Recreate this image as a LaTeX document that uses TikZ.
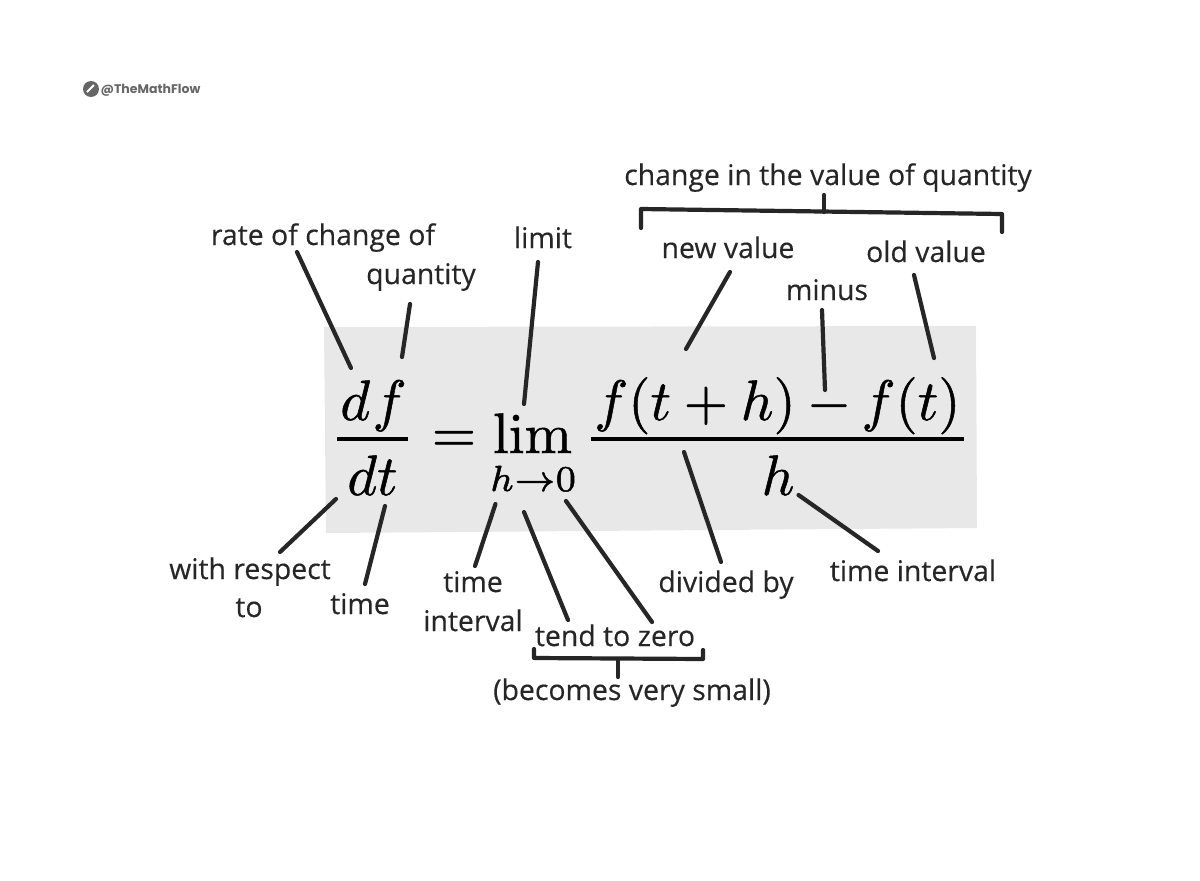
\documentclass[tikz,border=0pt]{standalone}
\usepackage[no-math]{fontspec}
\setmainfont{Open Sans}
\newfontfamily\lblfont[FakeBold=0.3]{Open Sans}
\newfontfamily\logofont{Poppins}
\definecolor{ink}{HTML}{262626}
\definecolor{panel}{HTML}{E8E8E8}
\definecolor{logogray}{HTML}{666666}
\newcommand{\thick}{\special{pdf:code 2 Tr 0.09 w}}
\tikzset{
  lbl/.style={text=ink,inner sep=0pt,anchor=base,font=\lblfont\fontsize{28.4}{32}\selectfont},
  conn/.style={draw=ink,line width=4.2pt,line cap=round,line join=round},
  eqn/.style={scale=5.7,inner sep=0pt,anchor=base,text=black},
  rulebar/.style={draw=black,line width=3.4pt},
}
\begin{document}
\begin{tikzpicture}[x=1pt,y=-1pt]
\useasboundingbox (0,0) rectangle (1200,881);
\fill[white] (0,0) rectangle (1200,881);
\fill[panel] (324,327) -- (976,326) -- (977,528) -- (326,533) -- cycle;
% logo
\node[circle,fill=logogray,minimum size=16pt,inner sep=0pt] (logoicon) at (91,89) {};
\draw[white,line width=2pt] (87,92) -- (94,85);
\node[inner sep=0pt,anchor=base,text=logogray,font=\logofont\bfseries\fontsize{12.5}{15}\selectfont] (logotext) at (150.5,93) {@TheMathFlow};
% equation
\node[eqn] (df) at (373.5,420) {\thick$d\mkern0.8mu f$};
\node[eqn] (dt) at (372.5,495) {\thick$dt$};
\node[eqn] (eq) at (454,452) {\thick$=$};
\node[eqn] (lim) at (532.5,453) {\thick$\mathrm{lim}$};
\node[eqn,scale=0.91] (hto) at (533,491) {\thick$\scriptstyle h\to 0$};
\node[eqn] (num1) at (695,420) {\thick$f(t+h)$};
\node[eqn] (minus) at (829,420) {\thick$-$};
\node[eqn] (num2) at (911,420) {\thick$f(t)$};
\node[eqn] (den) at (778,495) {\thick$h$};
\coordinate (r1a) at (337,439); \coordinate (r1b) at (408,439);
\coordinate (r2a) at (591,439); \coordinate (r2b) at (964,439);
\draw[rulebar] (r1a) -- (r1b);
\draw[rulebar] (r2a) -- (r2b);
% labels
\node[lbl] (change) at (828,185) {change in the value of quantity};
\node[lbl] (rate) at (323,245) {rate of change of};
\node[lbl] (quant) at (421,284) {quantity};
\node[lbl] (limit) at (543,248) {limit};
\node[lbl] (newv) at (728,258) {new value};
\node[lbl] (oldv) at (926,262) {old value};
\node[lbl] (minusl) at (827,300) {minus};
\node[lbl] (resp) at (250,579) {with respect};
\node[lbl] (to) at (249,617) {to};
\node[lbl] (timea) at (360,614) {time};
\node[lbl] (timeb) at (473,592) {time};
\node[lbl] (intv) at (473,631) {interval};
\node[lbl] (tend) at (615,646) {tend to zero};
\node[lbl] (small) at (632,700) {(becomes very small)};
\node[lbl] (divby) at (726,592) {divided by};
\node[lbl] (tint) at (913,581) {time interval};
% connector ends
\coordinate (c1a) at (297,252); \coordinate (c1b) at (351,368);
\coordinate (c2a) at (410,304); \coordinate (c2b) at (402,357);
\coordinate (c3a) at (538,262); \coordinate (c3b) at (524,404);
\coordinate (c4a) at (730,272); \coordinate (c4b) at (686,349);
\coordinate (c5a) at (822,310); \coordinate (c5b) at (825,390);
\coordinate (c6a) at (914,275); \coordinate (c6b) at (934,358);
\coordinate (c7a) at (280,552); \coordinate (c7b) at (336,499);
\coordinate (c8a) at (365,584); \coordinate (c8b) at (385,506);
\coordinate (c9a) at (475,566); \coordinate (c9b) at (495.5,504);
\coordinate (c10a) at (568,620); \coordinate (c10b) at (524,512);
\coordinate (c11a) at (652,622); \coordinate (c11b) at (566,501);
\coordinate (c12a) at (721,562); \coordinate (c12b) at (684,452);
\coordinate (c13a) at (878,551); \coordinate (c13b) at (798.5,495);
\foreach \i in {1,...,13} \draw[conn] (c\i a) -- (c\i b);
% brackets
\coordinate (ba) at (641,228); \coordinate (bb) at (641,209);
\coordinate (bc) at (1002,214); \coordinate (bd) at (1002,232);
\coordinate (be) at (824,195); \coordinate (bf) at (824,212);
\draw[conn] (ba) -- (bb) -- (bc) -- (bd);
\draw[conn] (be) -- (bf);
\coordinate (la) at (534,649); \coordinate (lb) at (534,658);
\coordinate (lc) at (703,659); \coordinate (ld) at (703,650);
\coordinate (le) at (618,659); \coordinate (lf) at (618,677);
\draw[conn] (la) -- (lb) -- (lc) -- (ld);
\draw[conn] (le) -- (lf);
\end{tikzpicture}
\end{document}
